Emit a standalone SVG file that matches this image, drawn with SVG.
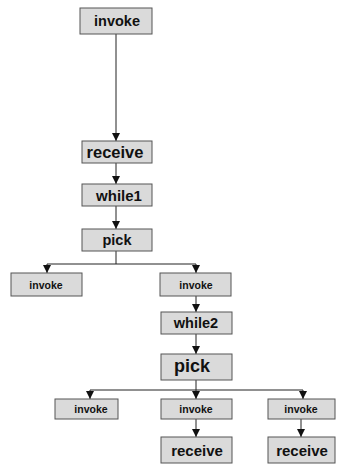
<svg xmlns="http://www.w3.org/2000/svg" width="337" height="464" viewBox="0 0 337 464">
<defs>
<marker id="ah" viewBox="0 0 10 10" refX="10" refY="5" markerWidth="8" markerHeight="8" markerUnits="userSpaceOnUse" orient="auto">
<path d="M0,0 L10,5 L0,10 z" fill="#111"/>
</marker>
</defs>
<style>
rect{fill:#dadada;stroke:#555;stroke-width:1}
text{font-family:"Liberation Sans",Arial,sans-serif;font-weight:bold;fill:#111;text-anchor:middle;dominant-baseline:central}
.c{stroke:#222;stroke-width:1;fill:none}
.a{marker-end:url(#ah)}
.s{font-size:10.5px}
.m{font-size:14.5px}
.r{font-size:16.5px}
.l{font-size:15px}
.p{font-size:18px}
</style>
<rect x="0" y="0" width="337" height="464" style="fill:#fff;stroke:none"/>
<g id="connectors">
<path class="c a" d="M116,34 V141"/>
<path class="c a" d="M116,163 V184"/>
<path class="c a" d="M116,206 V229"/>
<path class="c" d="M116,251 V264 M47,264 H196"/>
<path class="c a" d="M47,264 V273"/>
<path class="c a" d="M196,264 V273"/>
<path class="c a" d="M196,296 V312"/>
<path class="c a" d="M196,334 V354"/>
<path class="c" d="M196,380 V390 M90,390 H303"/>
<path class="c a" d="M90,390 V399"/>
<path class="c a" d="M196,390 V399"/>
<path class="c a" d="M303,390 V399"/>
<path class="c a" d="M196,419 V437"/>
<path class="c a" d="M301,419 V437"/>
</g>
<g id="invoke1"><rect x="80" y="8" width="72" height="26"/><text class="m" x="117" y="21">invoke</text></g>
<g id="receive1"><rect x="82" y="141" width="70" height="22"/><text class="r" x="115" y="152">receive</text></g>
<g id="while1"><rect x="82" y="184" width="70" height="22"/><text class="l" x="119" y="195">while1</text></g>
<g id="pick1"><rect x="82" y="229" width="70" height="22"/><text class="m" x="117" y="240">pick</text></g>
<g id="invoke2"><rect x="11" y="273" width="71" height="23"/><text class="s" x="46" y="284.5">invoke</text></g>
<g id="invoke3"><rect x="160" y="273" width="71" height="23"/><text class="s" x="196" y="284.5">invoke</text></g>
<g id="while2"><rect x="161" y="312" width="71" height="22"/><text class="m" x="196" y="323">while2</text></g>
<g id="pick2"><rect x="161" y="354" width="71" height="26"/><text class="p" x="192" y="366">pick</text></g>
<g id="invoke4"><rect x="55" y="399" width="63" height="20"/><text class="s" x="91" y="409">invoke</text></g>
<g id="invoke5"><rect x="161" y="399" width="71" height="20"/><text class="s" x="196" y="409">invoke</text></g>
<g id="invoke6"><rect x="268" y="399" width="67" height="20"/><text class="s" x="301" y="409">invoke</text></g>
<g id="receive2"><rect x="161" y="437" width="71" height="26"/><text class="l" x="197" y="450">receive</text></g>
<g id="receive3"><rect x="268" y="437" width="67" height="26"/><text class="l" x="302" y="450">receive</text></g>
</svg>
